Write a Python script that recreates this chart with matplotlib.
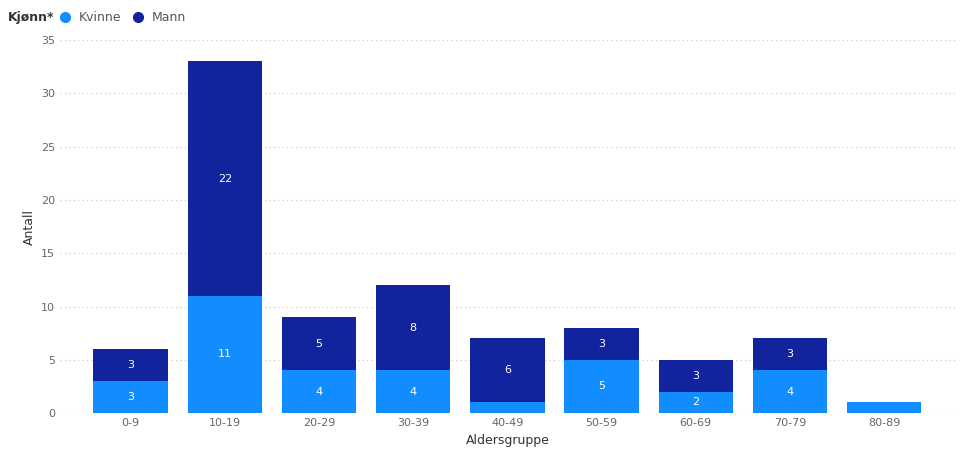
import matplotlib.pyplot as plt
from matplotlib.lines import Line2D

groups = ["0-9", "10-19", "20-29", "30-39", "40-49", "50-59", "60-69", "70-79", "80-89"]
kvinne = [3, 11, 4, 4, 1, 5, 2, 4, 1]
mann = [3, 22, 5, 8, 6, 3, 3, 3, 0]
yticks = [0, 5, 10, 15, 20, 25, 30, 35]

c_kvinne = "#118DFF"
c_mann = "#12239E"

fig = plt.figure(figsize=(9.6, 4.7), dpi=100)
ax = fig.add_axes([0.0625, 0.121, 0.932, 0.794])

x = range(len(groups))
ax.bar(x, kvinne, width=0.79, color=c_kvinne)
ax.bar(x, mann, width=0.79, bottom=kvinne, color=c_mann)

for i, (k, m) in enumerate(zip(kvinne, mann)):
    if k > 1:
        ax.text(i, k / 2, str(k), ha="center", va="center", color="white", fontsize=8)
    if m > 1:
        ax.text(i, k + m / 2, str(m), ha="center", va="center", color="white", fontsize=8)

ax.set_ylim(0, 35)
ax.set_xlim(-0.75, len(groups) - 0.25)
ax.set_yticks(yticks)
ax.set_xticks(list(x))
ax.set_xticklabels(groups)
ax.tick_params(length=0, labelsize=8, colors="#666666")
ax.yaxis.grid(True, linestyle=(0, (1, 3)), color="#c8c8c8", linewidth=0.8)
ax.set_axisbelow(True)
for s in ax.spines.values():
    s.set_visible(False)
ax.set_ylabel("Antall", fontsize=9, color="#333333")
ax.set_xlabel("Aldersgruppe", fontsize=9, color="#333333", labelpad=4)

handles = [Line2D([], [], marker="o", linestyle="", color=c_kvinne, markersize=7),
           Line2D([], [], marker="o", linestyle="", color=c_mann, markersize=7)]
fig.text(0.008, 0.963, "Kjønn*", fontsize=9, fontweight="bold", color="#333333", va="center")
fig.legend(handles, ["Kvinne", "Mann"], loc="center left", bbox_to_anchor=(0.055, 0.963),
           ncol=2, frameon=False, fontsize=9, handletextpad=0.05, columnspacing=0.4,
           borderaxespad=0, borderpad=0, labelcolor="#555555")

fig.savefig("out.png", dpi=100)
